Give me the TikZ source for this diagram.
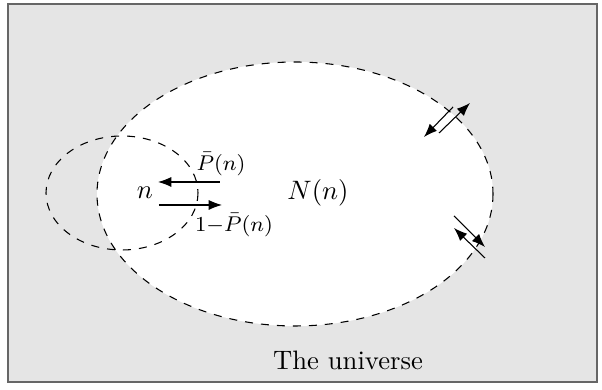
\documentclass[tikz,border=0pt]{standalone}
\usetikzlibrary{arrows.meta}
\begin{document}
\begin{tikzpicture}[x=0.375pt, y=-0.375pt, >={Latex[length=5pt,width=3.8pt]}]
\useasboundingbox (0,0) rectangle (602,390);
% universe, neighbourhood N(n) and the node's own region
\draw[black!60, fill=black!10] (8,4) rectangle (597,382);
\fill[white] (295,194) ellipse [x radius=198, y radius=132];
\draw[dashed] (295,194) ellipse [x radius=198, y radius=132];
\draw[dashed] (122,193) ellipse [x radius=76, y radius=57];
\node[inner sep=1pt] (n) at (145,193) {$n$};
\node[inner sep=1pt] (Nn) at (318,193) {$N(n)$};
\node[inner sep=1pt] (univ) at (348,360) {The universe};
% flows between n and N(n)
\coordinate (inA) at (220,182);  \coordinate (inB) at (158,182);
\coordinate (outA) at (159,205); \coordinate (outB) at (222,205);
\draw[->] (inA) -- (inB);
\draw[->] (outA) -- (outB);
\node[font=\footnotesize, inner sep=0.5pt] (pin) at (221,164) {$\bar{P}(n)$};
\node[font=\footnotesize, inner sep=0.5pt] (pout) at (234,225) {$1{-}\bar{P}(n)$};
% exchange across the boundary of N(n)
\coordinate (ua) at (453,107); \coordinate (ub) at (424,137);
\coordinate (uc) at (439,133); \coordinate (ud) at (470,103);
\coordinate (la) at (454,216); \coordinate (lb) at (485,247);
\coordinate (lc) at (485,258); \coordinate (ld) at (454,228);
\draw[->] (ua) -- (ub);
\draw[->] (uc) -- (ud);
\draw[->] (la) -- (lb);
\draw[->] (lc) -- (ld);
\end{tikzpicture}
\end{document}
